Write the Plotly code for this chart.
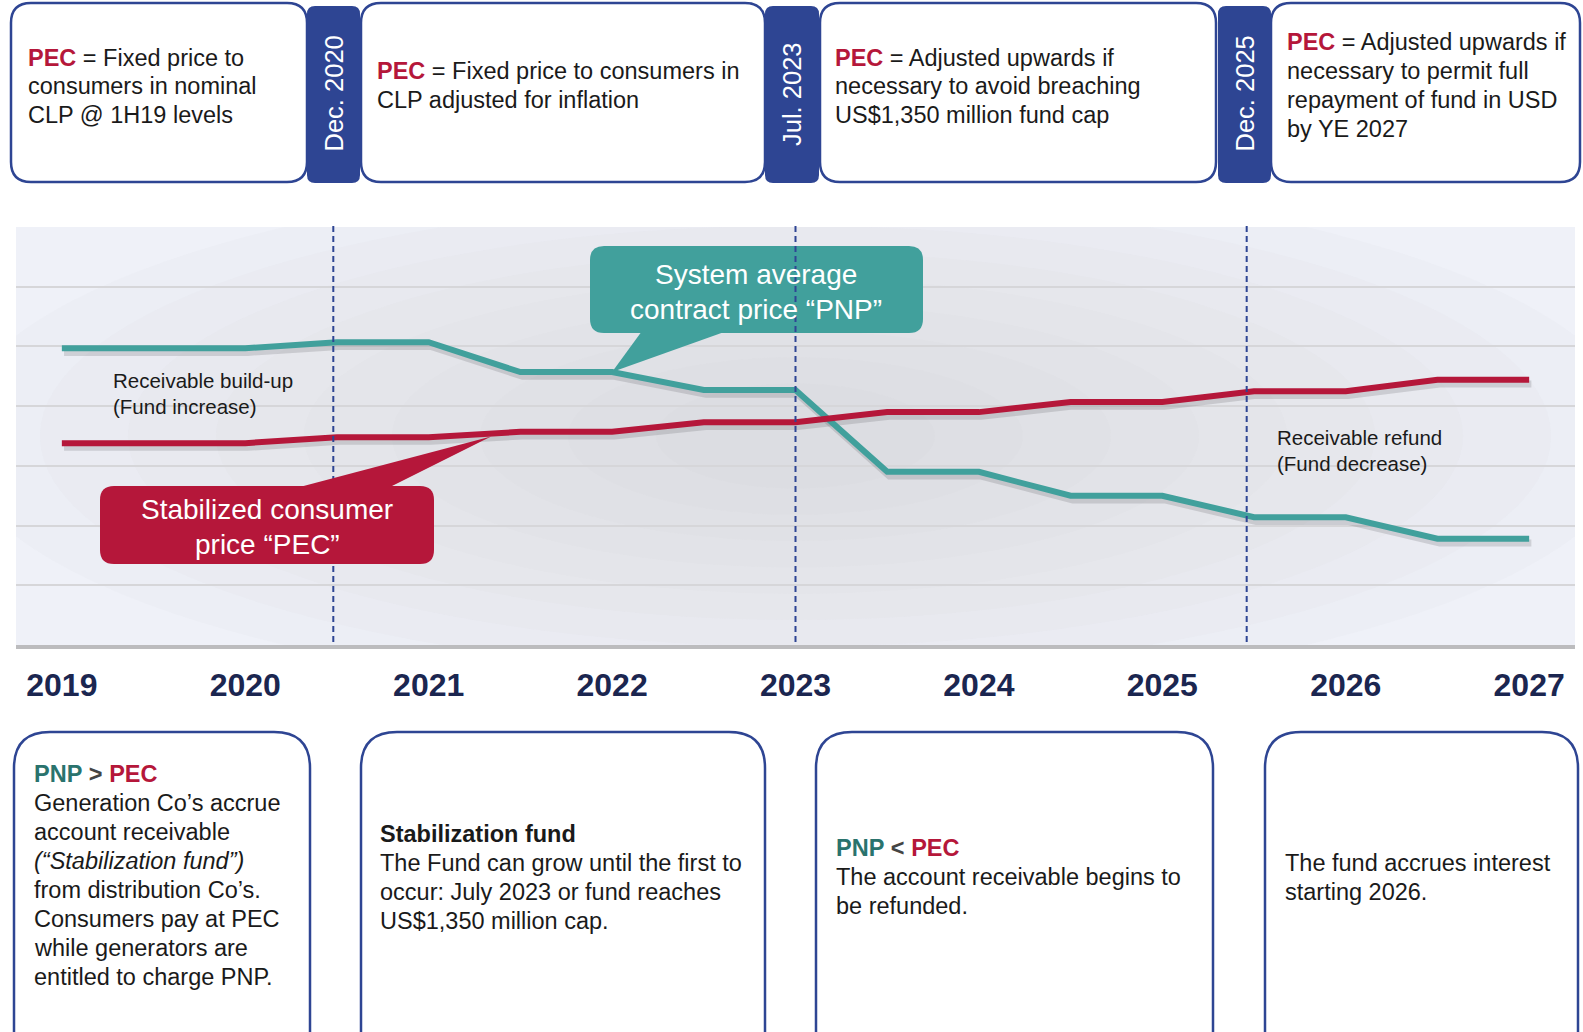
import plotly.graph_objects as go

# PNP vs PEC timeline (index values, grid step = 10)
periods = [2019, 2020, 2020.5, 2021, 2021.5, 2022, 2022.5, 2023,
           2023.5, 2024, 2024.5, 2025, 2025.5, 2026, 2026.5, 2027]
pnp = [49.7, 49.7, 50.7, 50.7, 45.7, 45.7, 42.7, 42.7,
       29.0, 29.0, 25.0, 25.0, 21.4, 21.4, 17.8, 17.8]
pec = [33.8, 33.8, 34.8, 34.8, 35.7, 35.7, 37.3, 37.3,
       39.0, 39.0, 40.7, 40.7, 42.5, 42.5, 44.4, 44.4]

year_ticks = [2019, 2020, 2021, 2022, 2023, 2024, 2025, 2026, 2027]
year_labels = ["2019", "2020", "2021", "2022", "2023", "2024", "2025", "2026", "2027"]

milestones = [2020.48, 2023.0, 2025.46]
milestone_labels = ["Dec. 2020", "Jul. 2023", "Dec. 2025"]

NAVY = "#2e4593"
RED = "#b5173a"
TEAL = "#41a09c"
PNP_TXT = "#2a736d"
YEAR = "#1b2650"
TEXT = "#1a1a1a"
FONT = "Liberation Sans, Arial, sans-serif"

PEC_TAG = f"<span style='color:{RED}'><b>PEC</b></span>"
PNP_TAG = f"<span style='color:{PNP_TXT}'><b>PNP</b></span>"

top_notes = [
    [PEC_TAG + " = Fixed price to", "consumers in nominal", "CLP @ 1H19 levels"],
    [PEC_TAG + " = Fixed price to consumers in", "CLP adjusted for inflation"],
    [PEC_TAG + " = Adjusted upwards if", "necessary to avoid breaching",
     "US$1,350 million fund cap"],
    [PEC_TAG + " = Adjusted upwards if", "necessary to permit full",
     "repayment of fund in USD", "by YE 2027"],
]
bottom_notes = [
    [PNP_TAG + " <span style='color:#444'><b>&gt;</b></span> " + PEC_TAG,
     "Generation Co’s accrue", "account receivable", "<i>(“Stabilization fund”)</i>",
     "from distribution Co’s.", "Consumers pay at PEC", "while generators are",
     "entitled to charge PNP."],
    ["<b>Stabilization fund</b>", "The Fund can grow until the first to",
     "occur: July 2023 or fund reaches", "US$1,350 million cap."],
    [PNP_TAG + " <span style='color:#444'><b>&lt;</b></span> " + PEC_TAG,
     "The account receivable begins to", "be refunded."],
    ["The fund accrues interest", "starting 2026."],
]

# pixel layout of the page
L, T, W, H = 16, 227, 1559, 418
X0, X1 = 2018.75, 2027.25
Y0, Y1 = 0, 70


def px(x):
    return (x - L) / W


def py(y):
    return (T + H - y) / H


def dx(v):
    return (v - X0) / (X1 - X0)


def dy(v):
    return (v - Y0) / (Y1 - Y0)


def rrect(x0, y0, x1, y1, r):
    a, b, c, d = px(x0), px(x1), py(y0), py(y1)
    ra, rb = px(x0 + r), px(x1 - r)
    rc, rd = py(y0 + r), py(y1 - r)
    return (f"M{ra},{c} L{rb},{c} Q{b},{c} {b},{rc} L{b},{rd} Q{b},{d} {rb},{d} "
            f"L{ra},{d} Q{a},{d} {a},{rd} L{a},{rc} Q{a},{c} {ra},{c} Z")


def tri(p1, p2, tip):
    return (f"M{px(p1[0])},{py(p1[1])} L{px(p2[0])},{py(p2[1])} "
            f"L{tip[0]},{tip[1]} Z")


def add_lines(fig, x, y0, step, lines, size, color=TEXT, anchor="left"):
    for i, line in enumerate(lines):
        fig.add_annotation(
            x=px(x), y=py(y0 + i * step), xref="paper", yref="paper",
            text=line, showarrow=False, xanchor=anchor, yanchor="middle",
            font=dict(family=FONT, size=size, color=color),
        )


fig = go.Figure()

# soft shadows under the lines
fig.add_trace(go.Scatter(x=[p + 0.012 for p in periods], y=[v - 0.7 for v in pnp],
                         mode="lines", line=dict(color="rgba(70,70,80,0.18)", width=7),
                         hoverinfo="skip"))
fig.add_trace(go.Scatter(x=[p + 0.012 for p in periods], y=[v - 0.7 for v in pec],
                         mode="lines", line=dict(color="rgba(70,70,80,0.18)", width=7),
                         hoverinfo="skip"))
fig.add_trace(go.Scatter(x=periods, y=pnp, mode="lines", name="PNP",
                         line=dict(color=TEAL, width=6)))
fig.add_trace(go.Scatter(x=periods, y=pec, mode="lines", name="PEC",
                         line=dict(color=RED, width=6)))

shapes = []
# plot background with a soft radial darkening (clipped to the plot area)
shapes.append(dict(type="rect", xref="paper", yref="paper", x0=0, x1=1, y0=0, y1=1,
                   fillcolor="#eff1f8", line_width=0, layer="below"))
for k in range(9):
    rx = 4.6 - k * 0.48
    ry = 44 - k * 4.4
    shapes.append(dict(type="circle", xref="x", yref="y",
                       x0=2023.0 - rx, x1=2023.0 + rx, y0=35 - ry, y1=35 + ry,
                       fillcolor="rgba(198,198,204,0.055)", line_width=0, layer="below"))

# top boxes and date tabs
top_boxes = [(11, 307), (361, 765), (820, 1216), (1271, 1580)]
for x0, x1 in top_boxes:
    shapes.append(dict(type="path", xref="paper", yref="paper",
                       path=rrect(x0, 3, x1, 182, 20),
                       fillcolor="white", line=dict(color=NAVY, width=2.5)))
tabs = [(307, 360), (765, 819), (1218, 1271)]
for x0, x1 in tabs:
    shapes.append(dict(type="path", xref="paper", yref="paper",
                       path=rrect(x0, 6, x1, 183, 8),
                       fillcolor=NAVY, line_width=0))

# bottom boxes
bottom_boxes = [(14, 310), (361, 765), (816, 1213), (1265, 1578)]
for x0, x1 in bottom_boxes:
    shapes.append(dict(type="path", xref="paper", yref="paper",
                       path=rrect(x0, 732, x1, 1070, 36),
                       fillcolor="white", line=dict(color=NAVY, width=2.5)))

# PNP callout (under the dashed lines)
shapes.append(dict(type="path", xref="paper", yref="paper",
                   path=rrect(590, 246, 923, 333, 14), fillcolor=TEAL, line_width=0))
shapes.append(dict(type="path", xref="paper", yref="paper",
                   path=tri((642, 331), (727, 331), (dx(periods[5]), dy(pnp[5]))),
                   fillcolor=TEAL, line_width=0))

# milestone dashed lines
for m in milestones:
    shapes.append(dict(type="line", xref="x", yref="paper", x0=m, x1=m,
                       y0=0.007, y1=1.006,
                       line=dict(color=NAVY, width=2, dash="6px,4px")))

# PEC callout
shapes.append(dict(type="path", xref="paper", yref="paper",
                   path=rrect(100, 486, 434, 564, 14), fillcolor=RED, line_width=0))
shapes.append(dict(type="path", xref="paper", yref="paper",
                   path=tri((296, 488), (388, 488), (dx(2021.34), dy(34.9))),
                   fillcolor=RED, line_width=0))

fig.update_layout(shapes=shapes)

# texts in the top boxes
top_text_pos = [(26, 57.5), (375, 71), (833, 57.5), (1285, 42.4)]
for (x, y), lines in zip(top_text_pos, top_notes):
    add_lines(fig, x, y, 28.9, lines, 23.5)

for (x0, x1), label in zip(tabs, milestone_labels):
    fig.add_annotation(x=px((x0 + x1) / 2), y=py(94), xref="paper", yref="paper",
                       text=label, textangle=-90, showarrow=False,
                       xanchor="center", yanchor="middle",
                       font=dict(family=FONT, size=25.5, color="white"))

# texts in the bottom boxes
bottom_text_pos = [(32, 774), (378, 834), (834, 848), (1283, 863)]
for (x, y), lines in zip(bottom_text_pos, bottom_notes):
    add_lines(fig, x, y, 29, lines, 23.5)

# callout texts
add_lines(fig, 756, 274, 35, ["System average", "contract price “PNP”"], 28,
          color="white", anchor="center")
add_lines(fig, 267, 509, 35, ["Stabilized consumer", "price “PEC”"], 28,
          color="white", anchor="center")

# zone notes
add_lines(fig, 111, 380, 26, ["Receivable build-up", "(Fund increase)"], 20.5)
add_lines(fig, 1275, 437, 26, ["Receivable refund", "(Fund decrease)"], 20.5)

fig.update_layout(
    width=1583,
    height=1032,
    autosize=False,
    margin=dict(l=L, r=1583 - L - W, t=T, b=1032 - T - H),
    paper_bgcolor="white",
    plot_bgcolor="rgba(0,0,0,0)",
    showlegend=False,
    font=dict(family=FONT, color=TEXT),
    xaxis=dict(
        range=[X0, X1],
        tickvals=year_ticks,
        ticktext=[f"<b>{t}</b>" for t in year_labels],
        tickfont=dict(family=FONT, size=32, color=YEAR),
        ticks="",
        ticklabelstandoff=9,
        showgrid=False,
        zeroline=False,
        showline=True,
        linecolor="#bcbcbe",
        linewidth=4,
        fixedrange=True,
    ),
    yaxis=dict(
        range=[Y0, Y1],
        dtick=10,
        showticklabels=False,
        ticks="",
        showgrid=True,
        gridcolor="#d6d6d9",
        gridwidth=2,
        zeroline=False,
        showline=False,
        fixedrange=True,
    ),
)

fig.write_html("out.html", config={"displayModeBar": False},
               post_script="document.body.style.margin='0px';")
